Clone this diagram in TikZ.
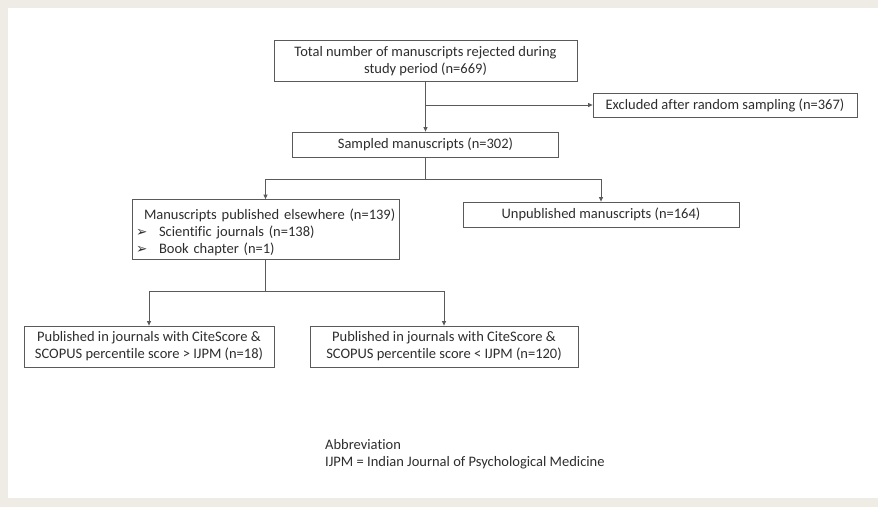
\documentclass[tikz,border=0pt]{standalone}
\usepackage{fontspec}
\setmainfont[Ligatures=NoCommon]{Carlito}
\newfontfamily\symfont{DejaVu Sans}
\usetikzlibrary{arrows.meta}
\definecolor{frame}{HTML}{EFECE5}
\definecolor{linec}{HTML}{5A5A5A}
\definecolor{txt}{HTML}{2E2E2E}
\tikzset{
  box/.style={draw=linec, line width=0.8pt, fill=white, text=txt,
    font=\fontsize{14.5}{17}\selectfont, inner sep=0pt, align=center},
  conn/.style={draw=linec, line width=0.8pt},
  arr/.style={conn, -{Triangle[length=4.5pt,width=4pt]}},
  note/.style={text=txt, font=\fontsize{14.5}{17}\selectfont, align=left, inner sep=0pt}
}
\newcommand{\bul}{\makebox[23pt][l]{\symfont\fontsize{13.5}{17}\selectfont ➢}}
\begin{document}
\begin{tikzpicture}[x=1pt,y=-1pt]
\fill[frame] (0,0) rectangle (878,507);
\fill[white] (8,8) rectangle (878,498);
\useasboundingbox (0,0) rectangle (878,507);

\node[box, minimum width=303pt, minimum height=41pt] (top) at (425.5,61)
  {Total number of manuscripts rejected during\\ study period (n=669)};
\node[box, minimum width=264pt, minimum height=24pt] (excl) at (725,105)
  {Excluded after random sampling (n=367)};
\node[box, minimum width=266pt, minimum height=25pt] (samp) at (425.5,144.5)
  {Sampled manuscripts (n=302)};
\node[box, minimum width=267pt, minimum height=60pt, text width=259pt, align=left] (manu) at (265.5,229.5)
  {\mbox{\rule{0pt}{17pt}\hspace*{8pt}Manuscripts published elsewhere (n=139)}\\
   \mbox{\bul Scientific journals (n=138)}\\
   \mbox{\bul Book chapter (n=1)}};
\node[box, minimum width=276pt, minimum height=25pt] (unpub) at (601,214.5)
  {Unpublished manuscripts (n=164)};
\node[box, minimum width=250pt, minimum height=41pt] (high) at (149,346.5)
  {Published in journals with CiteScore \&\\ SCOPUS percentile score > IJPM (n=18)};
\node[box, minimum width=268pt, minimum height=41pt] (low) at (444,346.5)
  {Published in journals with CiteScore \&\\ SCOPUS percentile score < IJPM (n=120)};
\node[note, anchor=north west] (abbr) at (325,439)
  {Abbreviation\\ IJPM = Indian Journal of Psychological Medicine};

\coordinate (b1) at (425.5,105);
\coordinate (b2) at (425.5,179);
\coordinate (b3) at (265.5,291);

\draw[arr] (top.south) -- (samp.north);
\draw[arr] (b1) -- (excl.west);
\draw[conn] (samp.south) -- (b2);
\draw[arr] (b2) -| (manu.north);
\draw[arr] (b2) -| (unpub.north);
\draw[conn] (manu.south) -- (b3);
\draw[arr] (b3) -| (high.north);
\draw[arr] (b3) -| (low.north);
\end{tikzpicture}
\end{document}
